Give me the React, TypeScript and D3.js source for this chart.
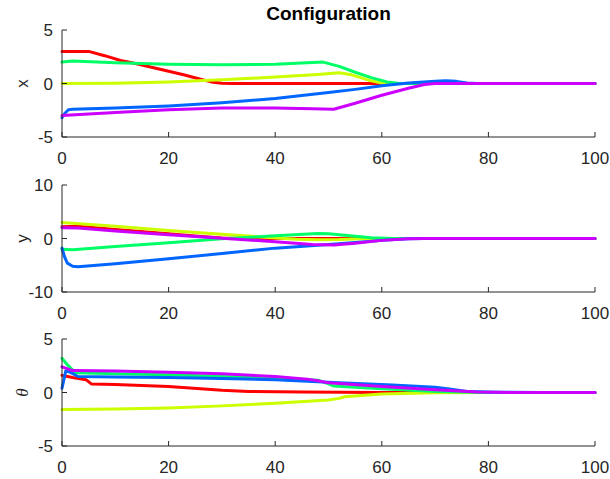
import React from "react";
import * as d3 from "d3";

type Pt = [number, number];

// hsv(5) colour order, drawn red first, purple last
const seriesColors = ["#ff0000", "#ccff00", "#00ff66", "#0066ff", "#cc00ff"];

const xTicks = [0, 20, 40, 60, 80, 100];

// x(t) per agent
const xRed: Pt[] = [[0, 3], [5, 3], [8, 2.6], [11, 2.15], [14, 1.85], [17, 1.5], [20, 1.15], [23, 0.8], [26, 0.4], [28, 0.15], [30, 0.02], [32, 0], [100, 0]];
const xYellow: Pt[] = [[0, 0], [10, 0.03], [20, 0.15], [30, 0.35], [40, 0.6], [48, 0.85], [52, 1.0], [54, 0.85], [56, 0.55], [58, 0.25], [60, 0.05], [62, 0], [100, 0]];
const xGreen: Pt[] = [[0, 2], [2, 2.1], [10, 1.95], [20, 1.8], [30, 1.75], [40, 1.8], [49, 2.0], [52, 1.6], [55, 1.05], [58, 0.55], [61, 0.15], [63, 0.02], [65, 0], [100, 0]];
const xBlue: Pt[] = [[0, -3.2], [0.5, -2.8], [1.2, -2.45], [2, -2.4], [10, -2.3], [20, -2.1], [30, -1.8], [40, -1.4], [50, -0.85], [55, -0.55], [60, -0.2], [65, 0.05], [70, 0.22], [72, 0.25], [74, 0.2], [76, 0.05], [78, 0], [100, 0]];
const xPurple: Pt[] = [[0, -3.0], [10, -2.7], [20, -2.45], [30, -2.3], [40, -2.3], [47, -2.35], [51, -2.4], [55, -1.85], [60, -1.1], [65, -0.45], [68, -0.1], [70, 0], [100, 0]];

// y(t) per agent
const yRed: Pt[] = [[0, 2.2], [3, 2.3], [10, 1.7], [20, 0.9], [25, 0.45], [30, 0.1], [33, 0], [100, 0]];
const yYellow: Pt[] = [[0, 3], [10, 2.3], [20, 1.5], [30, 0.8], [38, 0.25], [44, -0.15], [48, -0.25], [52, -0.2], [56, -0.05], [60, 0], [100, 0]];
const yGreen: Pt[] = [[0, -2.0], [2, -2.1], [10, -1.5], [20, -0.8], [30, -0.05], [40, 0.5], [48, 0.95], [50, 0.9], [54, 0.5], [58, 0.15], [62, 0], [100, 0]];
const yBlue: Pt[] = [[0, -1.8], [0.5, -3.5], [1, -4.6], [2, -5.2], [3, -5.3], [10, -4.7], [20, -3.8], [30, -2.8], [40, -1.8], [50, -1.1], [55, -0.75], [60, -0.35], [65, -0.05], [68, 0], [100, 0]];
const yPurple: Pt[] = [[0, 2.0], [3, 1.95], [10, 1.4], [20, 0.7], [30, 0.05], [40, -0.6], [47, -1.1], [51, -1.2], [55, -0.9], [60, -0.35], [65, -0.05], [68, 0], [100, 0]];

// theta(t) per agent
const tRed: Pt[] = [[0, 1.6], [2, 1.4], [4.5, 1.2], [5.5, 0.8], [10, 0.75], [20, 0.55], [30, 0.2], [35, 0.1], [45, 0.05], [60, 0], [100, 0]];
const tYellow: Pt[] = [[0, -1.6], [10, -1.55], [20, -1.45], [30, -1.25], [40, -1.0], [50, -0.7], [52, -0.55], [53, -0.4], [60, -0.15], [70, -0.02], [80, 0], [100, 0]];
const tGreen: Pt[] = [[0, 3.2], [1, 2.6], [2.5, 1.85], [10, 1.75], [20, 1.65], [30, 1.5], [40, 1.35], [48, 1.15], [50, 0.8], [51, 0.6], [60, 0.35], [70, 0.1], [80, 0], [100, 0]];
const tBlue: Pt[] = [[0, 0.4], [0.7, 2.0], [1.5, 1.9], [3, 1.5], [10, 1.45], [20, 1.4], [30, 1.3], [40, 1.2], [48, 1.0], [52, 0.9], [62, 0.7], [70, 0.5], [73, 0.3], [76, 0.1], [82, 0.03], [90, 0], [100, 0]];
const tPurple: Pt[] = [[0, 2.4], [2, 2.05], [10, 2.0], [20, 1.9], [30, 1.75], [40, 1.5], [46, 1.25], [48, 1.1], [50, 0.9], [60, 0.55], [70, 0.25], [78, 0.05], [85, 0], [100, 0]];

const panels = [
  { label: "x", italic: false, domain: [-5, 5], ticks: [-5, 0, 5], top: 30, series: [xRed, xYellow, xGreen, xBlue, xPurple] },
  { label: "y", italic: false, domain: [-10, 10], ticks: [-10, 0, 10], top: 185, series: [yRed, yYellow, yGreen, yBlue, yPurple] },
  { label: "θ", italic: true, domain: [-5, 5], ticks: [-5, 0, 5], top: 339, series: [tRed, tYellow, tGreen, tBlue, tPurple] },
];

const W = 610;
const H = 479;
const left = 62;
const right = 595;
const plotH = 107;
const axisColor = "#262626";
const font = "'Liberation Sans', Arial, Helvetica, sans-serif";

const xScale = d3.scaleLinear().domain([0, 100]).range([left, right]);

export default function App() {
  return (
    <div style={{ position: "absolute", left: 0, top: 0, background: "#fff" }}>
      <svg width={W} height={H} style={{ display: "block", fontFamily: font }}>
        <rect width={W} height={H} fill="#fff" />
        <text x={(left + right) / 2} y={20} textAnchor="middle" fontSize={19} fontWeight="bold" fill="#000">
          Configuration
        </text>
        {panels.map((p, i) => {
          const yScale = d3.scaleLinear().domain(p.domain).range([p.top + plotH, p.top]);
          const line = d3.line<Pt>().x(d => xScale(d[0])).y(d => yScale(d[1]));
          const bottom = p.top + plotH;
          return (
            <g key={i}>
              {p.series.map((s, j) => (
                <path key={j} d={line(s) ?? ""} fill="none" stroke={seriesColors[j]} strokeWidth={3}
                  strokeLinejoin="round" strokeLinecap="round" />
              ))}
              <line x1={left} x2={right} y1={bottom} y2={bottom} stroke={axisColor} strokeWidth={1} />
              <line x1={left} x2={left} y1={p.top} y2={bottom} stroke={axisColor} strokeWidth={1} />
              {xTicks.map(t => (
                <g key={t}>
                  <line x1={xScale(t)} x2={xScale(t)} y1={bottom} y2={bottom - 5} stroke={axisColor} />
                  <text x={xScale(t)} y={bottom + 27} textAnchor="middle" fontSize={17} fill={axisColor}>{t}</text>
                </g>
              ))}
              {p.ticks.map(t => (
                <g key={t}>
                  <line x1={left} x2={left + 5} y1={yScale(t)} y2={yScale(t)} stroke={axisColor} />
                  <text x={left - 9} y={yScale(t) + 6} textAnchor="end" fontSize={17} fill={axisColor}>{t}</text>
                </g>
              ))}
              <text transform={`translate(28,${yScale(0)}) rotate(-90)`} textAnchor="middle" fontSize={17}
                fontStyle={p.italic ? "italic" : "normal"} fill={axisColor}
                fontFamily={p.italic ? "'Liberation Serif', 'DejaVu Serif', serif" : font}>
                {p.label}
              </text>
            </g>
          );
        })}
      </svg>
    </div>
  );
}
